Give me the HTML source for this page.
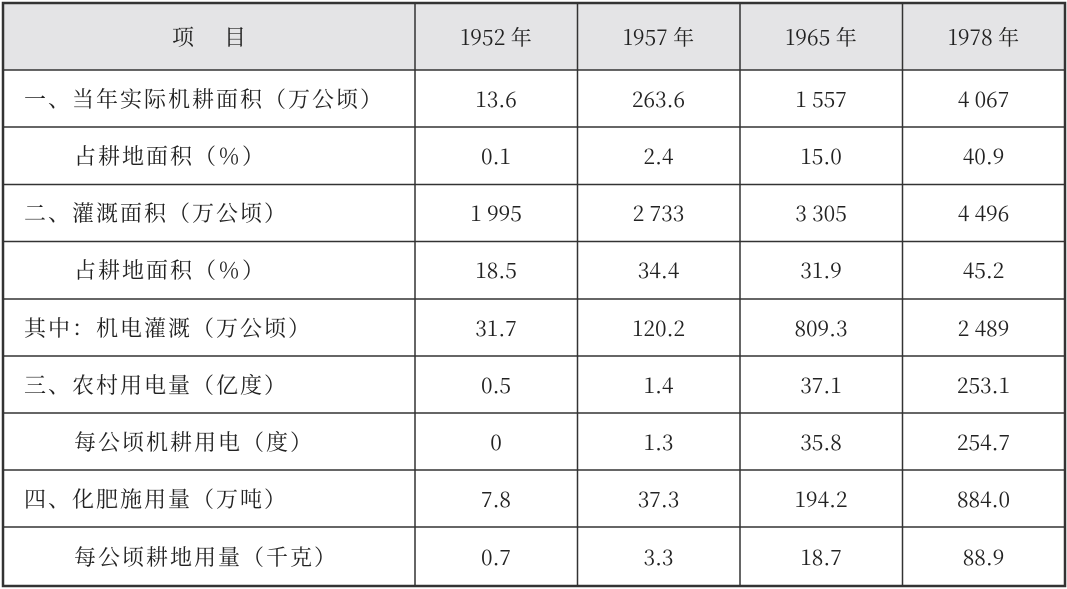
<!DOCTYPE html>
<html><head><meta charset="utf-8"><style>
body{margin:0;width:1067px;height:589px;background:#fff;position:relative;overflow:hidden;font-family:"Liberation Serif","Noto Serif CJK SC",serif;color:#222}
.h{position:absolute;left:3px;top:3px;width:1062px;height:67px;background:#e4e4e6}
.c{position:absolute;font-size:22px;line-height:22px;white-space:nowrap;font-family:"Noto Serif CJK SC",serif}
.l{letter-spacing:2px}
.n{text-align:center;width:162px;font-family:"Noto Serif CJK SC","Liberation Serif",serif;font-size:21px}
</style></head><body>
<div class="h"></div>
<svg width="1067" height="589" style="position:absolute;left:0;top:0">
<g stroke="#333" stroke-width="1.5">
<line x1="3" y1="70" x2="1065" y2="70"/>
<line x1="3" y1="127" x2="1065" y2="127"/>
<line x1="3" y1="184.5" x2="1065" y2="184.5"/>
<line x1="3" y1="241.5" x2="1065" y2="241.5"/>
<line x1="3" y1="299" x2="1065" y2="299"/>
<line x1="3" y1="356" x2="1065" y2="356"/>
<line x1="3" y1="413" x2="1065" y2="413"/>
<line x1="3" y1="470" x2="1065" y2="470"/>
<line x1="3" y1="527" x2="1065" y2="527"/>
<line x1="415" y1="3" x2="415" y2="586"/>
<line x1="577.5" y1="3" x2="577.5" y2="586"/>
<line x1="740" y1="3" x2="740" y2="586"/>
<line x1="902.5" y1="3" x2="902.5" y2="586"/>
</g>
<rect x="3" y="3" width="1062" height="583" fill="none" stroke="#333" stroke-width="2.5"/>
</svg>
<div id="t"></div>
<script>
var rows=[["项　目","1952 年","1957 年","1965 年","1978 年"],
["一、当年实际机耕面积（万公顷）","13.6","263.6","1 557","4 067"],
["　占耕地面积（％）","0.1","2.4","15.0","40.9"],
["二、灌溉面积（万公顷）","1 995","2 733","3 305","4 496"],
["　占耕地面积（％）","18.5","34.4","31.9","45.2"],
["其中：机电灌溉（万公顷）","31.7","120.2","809.3","2 489"],
["三、农村用电量（亿度）","0.5","1.4","37.1","253.1"],
["　每公顷机耕用电（度）","0","1.3","35.8","254.7"],
["四、化肥施用量（万吨）","7.8","37.3","194.2","884.0"],
["　每公顷耕地用量（千克）","0.7","3.3","18.7","88.9"]];
var tops=[3,70,127,184.5,241.5,299,356,413,470,527,586];
var xs=[415,577.5,740,902.5,1065];var h="";
for(var i=0;i<rows.length;i++){var cy=(tops[i]+tops[i+1])/2-11;var r=rows[i];
if(i==0){h+='<div class="c" style="left:3px;width:412px;text-align:center;top:'+cy+'px;letter-spacing:4px;text-indent:4px">'+r[0]+'</div>';}
else{var ind=r[0].charAt(0)=="　";var tx=ind?r[0].slice(1):r[0];h+='<div class="c l" style="left:'+(ind?74:24)+'px;top:'+cy+'px">'+tx+'</div>';}
for(var j=1;j<5;j++){h+='<div class="c n" style="left:'+xs[j-1]+'px;top:'+cy+'px">'+r[j]+'</div>';}}
document.getElementById("t").innerHTML=h;
</script>
</body></html>
